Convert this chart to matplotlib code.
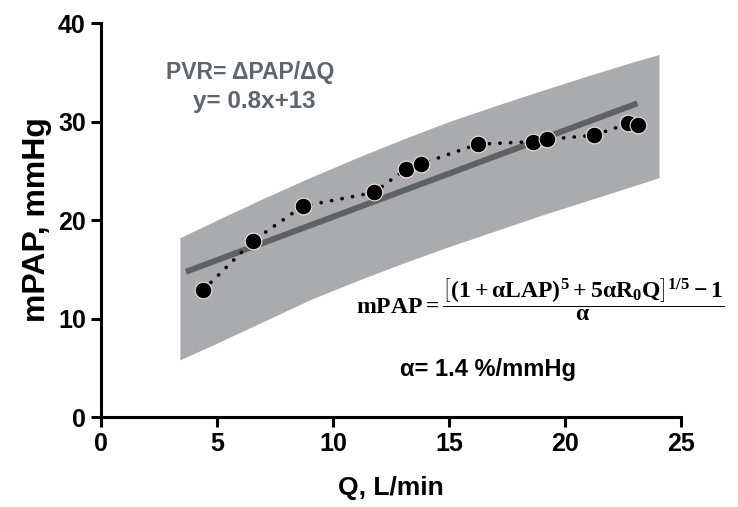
import matplotlib
matplotlib.use("Agg")
import matplotlib.pyplot as plt

plt.rcParams['font.family'] = ['Liberation Sans', 'DejaVu Sans']
plt.rcParams['mathtext.fontset'] = 'custom'
plt.rcParams['mathtext.rm'] = 'Liberation Serif:bold'
plt.rcParams['mathtext.it'] = 'Liberation Serif:bold'
plt.rcParams['mathtext.bf'] = 'Liberation Serif:bold'

# measured points
q = [4.41, 6.56, 8.69, 11.77, 13.15, 13.79, 16.24, 18.61, 19.24, 21.25, 22.73, 23.16]
mpap = [12.9, 17.9, 21.4, 22.8, 25.2, 25.7, 27.7, 27.95, 28.2, 28.6, 29.8, 29.65]

# shaded model band
band_q = [3.4, 5, 7, 9, 11, 13, 15, 17, 19, 21, 23, 24.05]
band_hi = [18.2, 20.0, 22.2, 24.3, 26.3, 28.2, 30.0, 31.6, 33.15, 34.65, 36.1, 36.8]
band_lo = [5.8, 7.5, 9.7, 11.9, 13.8, 15.6, 17.3, 18.9, 20.5, 22.0, 23.5, 24.3]

# linear fit line (end points)
fit_q = [3.66, 23.12]
fit_y = [14.75, 31.85]

fig = plt.figure(figsize=(7.38, 5.07), dpi=100)
ax = fig.add_axes([0.1369, 0.1775, 0.7859, 0.7771])

ax.fill_between(band_q, band_lo, band_hi, color='#a9abae', lw=0, zorder=1)
ax.plot(fit_q, fit_y, color='#5f6163', lw=4.3, solid_capstyle='butt', zorder=2)
ax.plot(q, mpap, color='black', lw=2.6, linestyle=(0, (0.05, 2.9)),
        dash_capstyle='round', zorder=3)
ax.plot(q, mpap, 'o', color='black', ms=12, mec='#f3e3dc', mew=0.8, zorder=4)

ax.text(6.45, 35.0, 'PVR= \u0394PAP/\u0394Q', color='#5b6670', fontsize=16.5,
        fontweight='bold', ha='center', va='center')
ax.text(6.6, 32.0, 'y= 0.8x+13', color='#5b6670', fontsize=17.5,
        fontweight='bold', ha='center', va='center')

ax.text(11.0, 11.9,
        r'$\mathrm{mPAP} = \dfrac{\left[(1+\alpha\mathrm{LAP})^5 + 5\alpha\mathrm{R_0Q}\right]^{1/5} - 1}{\alpha}$',
        fontsize=17, ha='left', va='center', clip_on=False)
ax.text(16.7, 4.8, '\u03b1= 1.4 %/mmHg', color='black', fontsize=17,
        fontweight='bold', ha='center', va='center')

ax.set_xlim(0, 25)
ax.set_ylim(0, 40)
ax.set_xticks([0, 5, 10, 15, 20, 25])
ax.set_yticks([0, 10, 20, 30, 40])
for s in ['top', 'right']:
    ax.spines[s].set_visible(False)
for s in ['left', 'bottom']:
    ax.spines[s].set_linewidth(2.2)
ax.tick_params(width=2.2, length=7, labelsize=18, pad=4)
for lab in ax.get_xticklabels() + ax.get_yticklabels():
    lab.set_fontweight('bold')

ax.set_xlabel('Q, L/min', fontsize=19, fontweight='bold', labelpad=14)
ax.set_ylabel('mPAP, mmHg', fontsize=23, fontweight='bold', labelpad=4)

fig.savefig('out.png', dpi=100)
